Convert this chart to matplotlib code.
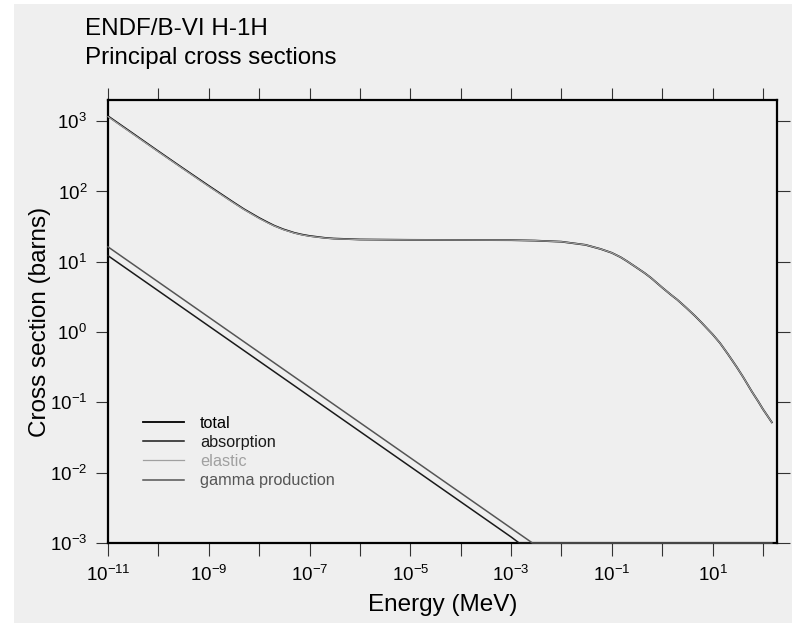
import numpy as np
import matplotlib; matplotlib.use("Agg")
import matplotlib.pyplot as plt
from matplotlib.patches import Rectangle
from matplotlib.ticker import FixedLocator, FixedFormatter, NullLocator

plt.rcParams.update({"font.family": "Liberation Sans", "mathtext.fontset": "custom",
                     "mathtext.rm": "Liberation Sans", "mathtext.it": "Liberation Sans:italic",
                     "mathtext.bf": "Liberation Sans:bold"})

# energies (MeV) and cross sections (barns)
e_el = [1e-11, 3e-11, 1e-10, 3e-10, 1e-9, 3e-9, 5e-9, 1e-8, 1.5e-8, 2e-8, 3e-8, 5e-8, 7e-8,
        1e-7, 2e-7, 3e-7, 1e-6, 1e-5, 1e-4, 1e-3, 3e-3, 1e-2, 3e-2, 6e-2, 0.1, 0.15, 0.2,
        0.3, 0.45, 0.6, 1, 1.5, 2, 3, 4.5, 6, 8, 10, 14, 20, 30, 40, 50, 60, 80, 100, 120, 150]
elastic = [1160, 670, 367, 213, 118, 70, 55.3, 41.4, 35.6, 32.3, 28.7, 25.6, 24.2,
           23.1, 21.8, 21.3, 20.7, 20.5, 20.4, 20.3, 20.0, 19.3, 17.4, 15.2, 13.4, 11.6, 10.2,
           8.4, 6.9, 5.9, 4.3, 3.38, 2.88, 2.22, 1.69, 1.37, 1.1, 0.93, 0.70, 0.49, 0.32, 0.232,
           0.178, 0.143, 0.104, 0.080, 0.066, 0.052]
total = [1177, 680, 372, 216, 120, 71, 56, 42, 36.1, 32.6, 29.0, 25.8, 24.4,
         23.3, 21.9, 21.4, 20.75, 20.5, 20.4, 20.3, 20.0, 19.3, 17.4, 15.2, 13.4, 11.6, 10.2,
         8.4, 6.9, 5.9, 4.3, 3.38, 2.88, 2.22, 1.69, 1.37, 1.1, 0.93, 0.70, 0.49, 0.32, 0.232,
         0.178, 0.143, 0.104, 0.080, 0.066, 0.052]
e_abs = [1e-11, 1e-9, 1e-7, 1e-5, 1e-3, 1.45e-3, 1e-2, 1, 150]
absorption = [12.2, 1.22, 0.122, 0.0122, 1.22e-3, 1.0e-3, 3.9e-4, 3.9e-5, 3.2e-5]
e_gam = [1e-11, 1e-9, 1e-7, 1e-5, 1e-3, 2.66e-3, 1e-2, 1, 150]
gamma = [16.3, 1.63, 0.163, 0.0163, 1.63e-3, 1.0e-3, 5.2e-4, 5.2e-5, 4.0e-5]

YMIN, YMAX = 1e-3, 2e3
BG = "#efefef"

fig = plt.figure(figsize=(7.92, 6.23), dpi=100)
fig.patches.append(Rectangle((14/792, 0), 1, 619/623, transform=fig.transFigure,
                             facecolor=BG, edgecolor="none", zorder=-10))
ax = fig.add_axes([108/792, 80/623, 669/792, 443/623])
ax.set_facecolor(BG)

series = [("total", e_el, total, "black", 1.3), ("absorption", e_abs, absorption, "#1a1a1a", 1.1),
          ("elastic", e_el, elastic, "#a0a0a0", 0.9), ("gamma production", e_gam, gamma, "#555555", 1.1)]
for name, e, s, c, w in series:
    ax.plot(e, np.maximum(s, YMIN), color=c, lw=w, label=name, zorder=3, clip_on=False)

ax.set_xscale("log"); ax.set_yscale("log")
ax.set_xlim(1e-11, 1.9e2); ax.set_ylim(YMIN, YMAX)

xexp = list(range(-11, 3))
ax.xaxis.set_major_locator(FixedLocator([10.0**k for k in xexp]))
ax.xaxis.set_major_formatter(FixedFormatter([f"$10^{{{k}}}$" if k % 2 else "" for k in xexp]))
yexp = list(range(-3, 4))
ax.yaxis.set_major_locator(FixedLocator([10.0**k for k in yexp]))
ax.yaxis.set_major_formatter(FixedFormatter([f"$10^{{{k}}}$" for k in yexp]))
ax.xaxis.set_minor_locator(NullLocator()); ax.yaxis.set_minor_locator(NullLocator())
ax.tick_params(direction="out", top=True, right=True, length=9, width=0.8, color="#333333",
               labelsize=13.5, labelcolor="black")
ax.tick_params(axis="x", pad=7)
ax.tick_params(axis="y", pad=6)
for sp in ax.spines.values():
    sp.set_linewidth(1.6); sp.set_color("black")

fig.text(85/792, 1 - 35/623, "ENDF/B-VI H-1H", fontsize=17.4, va="baseline", ha="left")
fig.text(85/792, 1 - 64/623, "Principal cross sections", fontsize=17.4, va="baseline", ha="left")
fig.text(442.5/792, 1 - 605/623, "Energy (MeV)", fontsize=17.5, ha="center", va="center")
fig.text(40/792, 1 - 321.5/623, "Cross section (barns)", fontsize=17.5, rotation=90,
         ha="center", va="center")

leg = ax.legend(loc="upper left", bbox_to_anchor=(143/792, 1 - 416/623), bbox_transform=fig.transFigure,
                frameon=False, fontsize=11.7, handlelength=2.5, handletextpad=1.0,
                labelspacing=0.25, borderpad=0, borderaxespad=0)
for txt, (_, _, _, c, _) in zip(leg.get_texts(), series):
    txt.set_color(c)

fig.savefig("out.png", dpi=100)
